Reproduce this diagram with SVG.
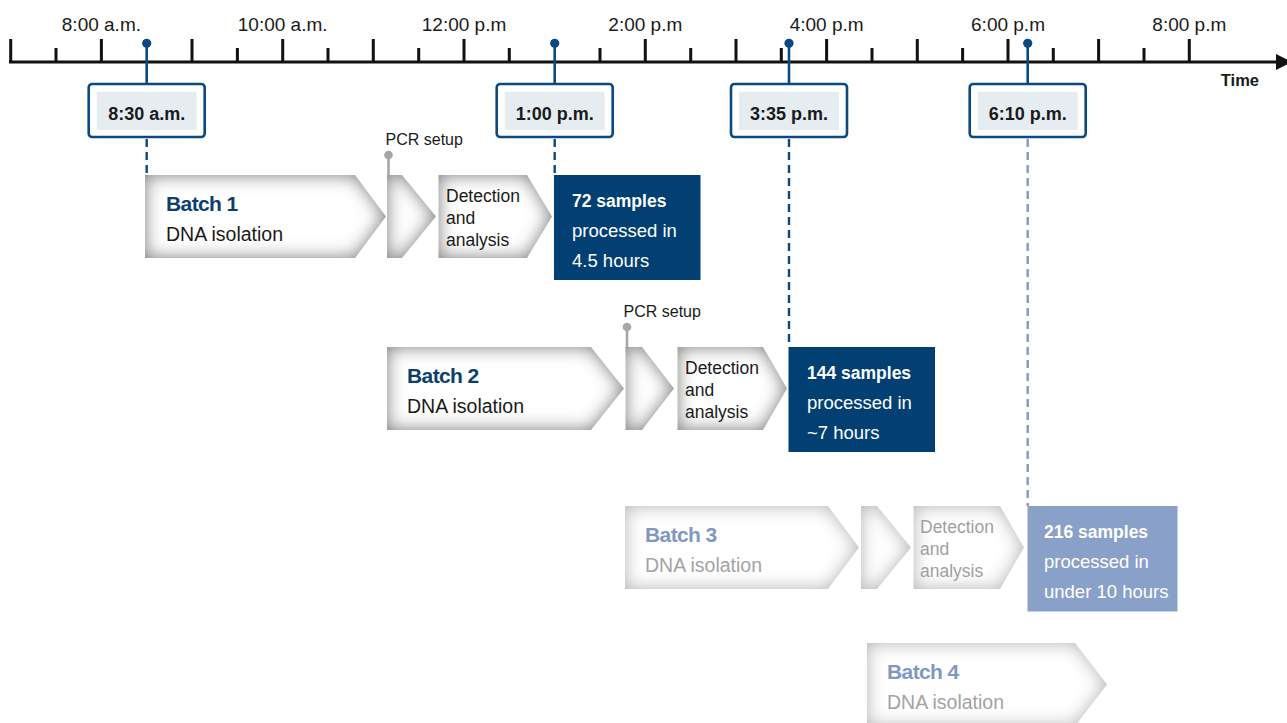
<svg xmlns="http://www.w3.org/2000/svg" width="1287" height="723" viewBox="0 0 1287 723">
<style>
text{font-family:"Liberation Sans",Arial,sans-serif}
.tick{stroke:#111;stroke-width:3}
.hour{font-size:19px;fill:#1a1a1a;text-anchor:middle}
.tbox{fill:#fff;stroke:#0b4a80;stroke-width:2.6}
.tin{fill:#e6edf1}
.ttxt{font-size:18px;font-weight:bold;fill:#1a1a1a;text-anchor:middle}
.pin{stroke:#0b4a80;stroke-width:2.6}
.dash{stroke:#0b4a80;stroke-width:2.4;stroke-dasharray:8 5;fill:none}
.dashl{stroke:#8199c2;stroke-width:2.4;stroke-dasharray:8 5;fill:none}
.arr{fill:#fff;filter:url(#glow)}
.arrf{fill:#fff;filter:url(#glowf)}
.title{font-size:21px;font-weight:bold;letter-spacing:-0.6px;fill:#0c3f70}
.titlef{font-size:21px;font-weight:bold;letter-spacing:-0.6px;fill:#8099c2}
.sub{font-size:19.5px;fill:#1a1a1a}
.subf{font-size:19.5px;fill:#a3a3a3}
.det{font-size:17.5px;fill:#1a1a1a}
.detf{font-size:17.5px;fill:#a0a0a0}
.res{fill:#023f73}
.resf{fill:#89a1c8}
.rb{font-size:17.5px;font-weight:bold;fill:#fff}
.rr{font-size:18.5px;fill:#fff}
.pcr{font-size:16px;fill:#1a1a1a}
.pcrpin{stroke:#a6a6a6;stroke-width:2.6}
</style>
<defs>
<filter id="glow" filterUnits="userSpaceOnUse" x="-50" y="-50" width="1400" height="850" color-interpolation-filters="sRGB">
<feComponentTransfer in="SourceAlpha" result="inv"><feFuncA type="table" tableValues="1 0"/></feComponentTransfer>
<feGaussianBlur in="inv" stdDeviation="9" result="blur"/>
<feFlood flood-color="#7a7a7a" result="col"/>
<feComposite in="col" in2="blur" operator="in" result="shadow"/>
<feComposite in="shadow" in2="SourceAlpha" operator="in" result="inner"/>
<feMerge><feMergeNode in="SourceGraphic"/><feMergeNode in="inner"/></feMerge>
</filter>
<filter id="glowf" filterUnits="userSpaceOnUse" x="-50" y="-50" width="1400" height="850" color-interpolation-filters="sRGB">
<feComponentTransfer in="SourceAlpha" result="inv"><feFuncA type="table" tableValues="1 0"/></feComponentTransfer>
<feGaussianBlur in="inv" stdDeviation="9" result="blur"/>
<feFlood flood-color="#b2b2b2" result="col"/>
<feComposite in="col" in2="blur" operator="in" result="shadow"/>
<feComposite in="shadow" in2="SourceAlpha" operator="in" result="inner"/>
<feMerge><feMergeNode in="SourceGraphic"/><feMergeNode in="inner"/></feMerge>
</filter>
</defs>
<rect width="1287" height="723" fill="#fff"/>

<g id="timeline">
<line x1="9" y1="62" x2="1279" y2="62" stroke="#111" stroke-width="3.2"/>
<polygon points="1276,54 1292,62 1276,70" fill="#111"/>
<g class="tick">
<line x1="10.7" y1="39" x2="10.7" y2="62"/>
<line x1="56" y1="48" x2="56" y2="62"/>
<line x1="101.4" y1="39" x2="101.4" y2="62"/>
<line x1="192" y1="39" x2="192" y2="62"/>
<line x1="237.4" y1="48" x2="237.4" y2="62"/>
<line x1="282.7" y1="39" x2="282.7" y2="62"/>
<line x1="328" y1="48" x2="328" y2="62"/>
<line x1="373.3" y1="39" x2="373.3" y2="62"/>
<line x1="418.7" y1="48" x2="418.7" y2="62"/>
<line x1="464" y1="39" x2="464" y2="62"/>
<line x1="509.3" y1="48" x2="509.3" y2="62"/>
<line x1="600" y1="48" x2="600" y2="62"/>
<line x1="645.3" y1="39" x2="645.3" y2="62"/>
<line x1="690.7" y1="48" x2="690.7" y2="62"/>
<line x1="736" y1="39" x2="736" y2="62"/>
<line x1="781.3" y1="48" x2="781.3" y2="62"/>
<line x1="826.6" y1="39" x2="826.6" y2="62"/>
<line x1="872" y1="48" x2="872" y2="62"/>
<line x1="917.3" y1="39" x2="917.3" y2="62"/>
<line x1="962.6" y1="48" x2="962.6" y2="62"/>
<line x1="1008" y1="39" x2="1008" y2="62"/>
<line x1="1053.3" y1="48" x2="1053.3" y2="62"/>
<line x1="1098.6" y1="39" x2="1098.6" y2="62"/>
<line x1="1144" y1="48" x2="1144" y2="62"/>
<line x1="1189.3" y1="39" x2="1189.3" y2="62"/>
</g>
<text class="hour" x="101.4" y="30.5">8:00 a.m.</text>
<text class="hour" x="282.7" y="30.5">10:00 a.m.</text>
<text class="hour" x="464" y="30.5">12:00 p.m</text>
<text class="hour" x="645.3" y="30.5">2:00 p.m</text>
<text class="hour" x="826.6" y="30.5">4:00 p.m</text>
<text class="hour" x="1008" y="30.5">6:00 p.m</text>
<text class="hour" x="1189.3" y="30.5">8:00 p.m</text>
<text x="1259" y="85.5" font-size="16.5" font-weight="bold" fill="#1a1a1a" text-anchor="end">Time</text>
</g>

<g id="connectors">
<line class="pin" x1="146.7" y1="43" x2="146.7" y2="84"/>
<circle cx="146.7" cy="43.3" r="4.6" fill="#0b4a80"/>
<line class="dash" x1="146.7" y1="139" x2="146.7" y2="175"/>
<line class="pin" x1="554.7" y1="43" x2="554.7" y2="84"/>
<circle cx="554.7" cy="43.3" r="4.6" fill="#0b4a80"/>
<line class="dash" x1="554.7" y1="139" x2="554.7" y2="175"/>
<line class="pin" x1="789" y1="43" x2="789" y2="84"/>
<circle cx="789" cy="43.3" r="4.6" fill="#0b4a80"/>
<line class="dash" x1="789" y1="139" x2="789" y2="347"/>
<line class="pin" x1="1027.7" y1="43" x2="1027.7" y2="84"/>
<circle cx="1027.7" cy="43.3" r="4.6" fill="#0b4a80"/>
<line class="dashl" x1="1027.7" y1="139" x2="1027.7" y2="506"/>
<line class="pcrpin" x1="388.5" y1="155" x2="388.5" y2="178"/>
<circle cx="388.5" cy="155" r="4.3" fill="#a6a6a6"/>
<line class="pcrpin" x1="627" y1="327" x2="627" y2="350"/>
<circle cx="627" cy="327" r="4.3" fill="#a6a6a6"/>
</g>

<g id="time-830">
<rect class="tbox" x="88.7" y="84" width="116" height="53" rx="3.5"/>
<rect class="tin" x="96.7" y="91.7" width="100" height="38.3"/>
<text class="ttxt" x="146.7" y="119.5">8:30 a.m.</text>
</g>
<g id="time-100">
<rect class="tbox" x="496.7" y="84" width="116" height="53" rx="3.5"/>
<rect class="tin" x="504.7" y="91.7" width="100" height="38.3"/>
<text class="ttxt" x="554.7" y="119.5">1:00 p.m.</text>
</g>
<g id="time-335">
<rect class="tbox" x="731" y="84" width="116" height="53" rx="3.5"/>
<rect class="tin" x="739" y="91.7" width="100" height="38.3"/>
<text class="ttxt" x="789" y="119.5">3:35 p.m.</text>
</g>
<g id="time-610">
<rect class="tbox" x="969.7" y="84" width="116" height="53" rx="3.5"/>
<rect class="tin" x="977.7" y="91.7" width="100" height="38.3"/>
<text class="ttxt" x="1027.7" y="119.5">6:10 p.m.</text>
</g>

<g id="batch1-dna">
<path class="arr" d="M145,175 H355 L386,216.5 L355,258 H145 Z"/>
<text class="title" x="166" y="211">Batch 1</text>
<text class="sub" x="166" y="241">DNA isolation</text>
</g>
<g id="batch1-pcr">
<path class="arr" d="M387,175 H402 L436,216.5 L402,258 H387 Z"/>
<text class="pcr" x="385.5" y="145">PCR setup</text>
</g>
<g id="batch1-detection">
<path class="arr" d="M438.5,175 H527 L552,216.5 L527,258 H438.5 Z"/>
<text class="det" x="446" y="202"><tspan x="446">Detection</tspan><tspan x="446" y="224">and</tspan><tspan x="446" y="246">analysis</tspan></text>
</g>
<g id="batch1-result">
<rect class="res" x="554" y="175" width="146.5" height="105"/>
<text class="rb" x="572" y="207">72 samples</text>
<text class="rr" x="572" y="237">processed in</text>
<text class="rr" x="572" y="267">4.5 hours</text>
</g>

<g id="batch2-dna">
<path class="arr" d="M387,347 H591 L624,388.5 L591,430 H387 Z"/>
<text class="title" x="407" y="383">Batch 2</text>
<text class="sub" x="407" y="413">DNA isolation</text>
</g>
<g id="batch2-pcr">
<path class="arr" d="M625.5,347 H642 L674,388.5 L642,430 H625.5 Z"/>
<text class="pcr" x="623.5" y="317">PCR setup</text>
</g>
<g id="batch2-detection">
<path class="arr" d="M677.5,347 H763 L787,388.5 L763,430 H677.5 Z"/>
<text class="det" x="685" y="374"><tspan x="685">Detection</tspan><tspan x="685" y="396">and</tspan><tspan x="685" y="418">analysis</tspan></text>
</g>
<g id="batch2-result">
<rect class="res" x="788.5" y="347" width="146.5" height="105"/>
<text class="rb" x="807" y="379">144 samples</text>
<text class="rr" x="807" y="409">processed in</text>
<text class="rr" x="807" y="439">~7 hours</text>
</g>

<g id="batch3-dna">
<path class="arrf" d="M625,506 H828 L859,547.5 L828,589 H625 Z"/>
<text class="titlef" x="645" y="542">Batch 3</text>
<text class="subf" x="645" y="572">DNA isolation</text>
</g>
<g id="batch3-pcr">
<path class="arrf" d="M861,506 H877 L911,547.5 L877,589 H861 Z"/>
</g>
<g id="batch3-detection">
<path class="arrf" d="M913.5,506 H1000 L1024,547.5 L1000,589 H913.5 Z"/>
<text class="detf" x="920" y="533"><tspan x="920">Detection</tspan><tspan x="920" y="555">and</tspan><tspan x="920" y="577">analysis</tspan></text>
</g>
<g id="batch3-result">
<rect class="resf" x="1027.5" y="506" width="150" height="105.5"/>
<text class="rb" x="1044" y="538">216 samples</text>
<text class="rr" x="1044" y="568">processed in</text>
<text class="rr" x="1044" y="598">under 10 hours</text>
</g>

<g id="batch4-dna">
<path class="arrf" d="M867,643 H1075 L1107,684.5 L1075,726 H867 Z"/>
<text class="titlef" x="887" y="679">Batch 4</text>
<text class="subf" x="887" y="709">DNA isolation</text>
</g>
</svg>
